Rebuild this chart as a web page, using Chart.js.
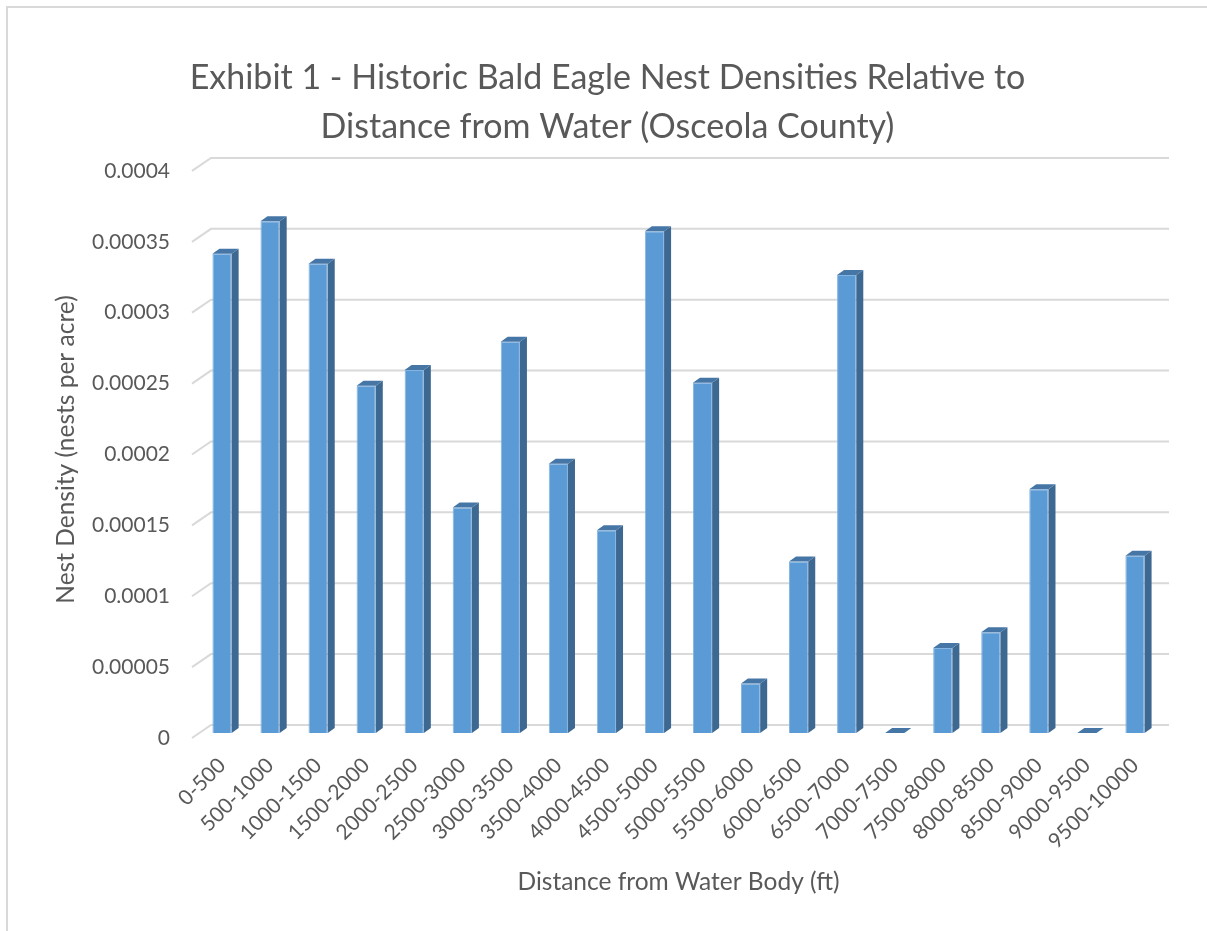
<!DOCTYPE html>
<html>
<head>
<meta charset="utf-8">
<script src="https://cdn.jsdelivr.net/npm/chart.js@4.4.1/dist/chart.umd.min.js"></script>
<style>
  html, body { margin: 0; padding: 0; background: #fff; overflow: hidden; }
  #frame { position: absolute; left: 6px; top: 6px; width: 1400px; height: 1100px;
           border-top: 2px solid #d9d9d9; border-left: 2px solid #d9d9d9; }
  #chart { position: absolute; left: 0; top: 0; }
</style>
</head>
<body>
<div id="frame"></div>
<canvas id="chart" width="1207" height="931"></canvas>
<script>
const distanceBands = ['0-500', '500-1000', '1000-1500', '1500-2000', '2000-2500',
    '2500-3000', '3000-3500', '3500-4000', '4000-4500', '4500-5000',
    '5000-5500', '5500-6000', '6000-6500', '6500-7000', '7000-7500',
    '7500-8000', '8000-8500', '8500-9000', '9000-9500', '9500-10000'];
const nestDensity = [0.000338, 0.000361, 0.000331, 0.000245, 0.000256,
    0.000159, 0.000276, 0.000190, 0.000143, 0.000354,
    0.000247, 0.000035, 0.000121, 0.000323, 0,
    0.000060, 0.000071, 0.000172, 0, 0.000125];
const titleLines = ['Exhibit 1 - Historic Bald Eagle Nest Densities Relative to',
    'Distance from Water (Osceola County)'];

const font = 'Lato';
const grey = '#595959';

// fake excel 3d look: back wall grid + side/top faces of columns
const bar3d = {
    id: 'bar3d',
    beforeDatasetsDraw(chart) {
        const {ctx, chartArea, scales} = chart;
        const y = scales.y;
        ctx.save();
        ctx.strokeStyle = '#d9d9d9';
        ctx.lineWidth = 2;
        y.ticks.forEach(t => {
            const py = y.getPixelForValue(t.value);
            ctx.beginPath();
            ctx.moveTo(chartArea.left - 6, py + 5);
            ctx.lineTo(chartArea.left + 13, py - 8);
            ctx.lineTo(chartArea.right + 10, py - 8);
            ctx.stroke();
        });
        ctx.restore();
    },
    afterDatasetsDraw(chart) {
        const ctx = chart.ctx;
        const dx = 7, dy = 5;
        ctx.save();
        chart.getDatasetMeta(0).data.forEach(bar => {
            const {x, y, base, width} = bar.getProps(['x', 'y', 'base', 'width'], true);
            const l = x - width / 2, r = x + width / 2;
            ctx.fillStyle = '#3d6891';
            ctx.beginPath();
            ctx.moveTo(r, y);
            ctx.lineTo(r + dx, y - dy);
            ctx.lineTo(r + dx, base - dy);
            ctx.lineTo(r, base);
            ctx.closePath();
            ctx.fill();
            ctx.fillStyle = '#4676a6';
            ctx.beginPath();
            ctx.moveTo(l, y);
            ctx.lineTo(l + dx, y - dy);
            ctx.lineTo(r + dx, y - dy);
            ctx.lineTo(r, y);
            ctx.closePath();
            ctx.fill();
        });
        ctx.restore();
    }
};

new Chart(document.getElementById('chart'), {
    type: 'bar',
    data: {
        labels: distanceBands,
        datasets: [{
            label: 'Nest Density',
            data: nestDensity,
            backgroundColor: '#5b9bd5',
            borderColor: '#86b4e0',
            borderWidth: 1,
            barPercentage: 0.4,
            categoryPercentage: 1
        }]
    },
    options: {
        responsive: false,
        animation: false,
        layout: { padding: { left: 56, right: 48, top: 0, bottom: 34 } },
        plugins: {
            legend: { display: false },
            tooltip: { enabled: false },
            title: {
                display: true,
                text: titleLines,
                color: grey,
                font: { family: font, size: 34, weight: 'normal', lineHeight: 1.44 },
                padding: { top: 54, bottom: 14 }
            }
        },
        scales: {
            x: {
                grid: { display: false, drawTicks: false },
                border: { display: false },
                ticks: { color: grey, font: { family: font, size: 21 }, minRotation: 45, maxRotation: 45, padding: 20 },
                title: { display: true, text: 'Distance from Water Body (ft)', color: grey,
                         font: { family: font, size: 24.5 }, padding: 0 },
                afterFit: s => { s.height = 164; }
            },
            y: {
                min: 0,
                max: 0.0004,
                grid: { display: false, drawTicks: false },
                border: { display: false },
                ticks: { stepSize: 0.00005, color: grey, font: { family: font, size: 21 }, padding: 28, labelOffset: 5,
                         callback: v => String(Number(v.toPrecision(6))) },
                title: { display: true, text: 'Nest Density (nests per acre)', color: grey,
                         font: { family: font, size: 24.5 }, padding: { top: -5, bottom: 0 } },
                afterFit: s => { s.width = 142; }
            }
        }
    },
    plugins: [bar3d]
});
</script>
</body>
</html>
